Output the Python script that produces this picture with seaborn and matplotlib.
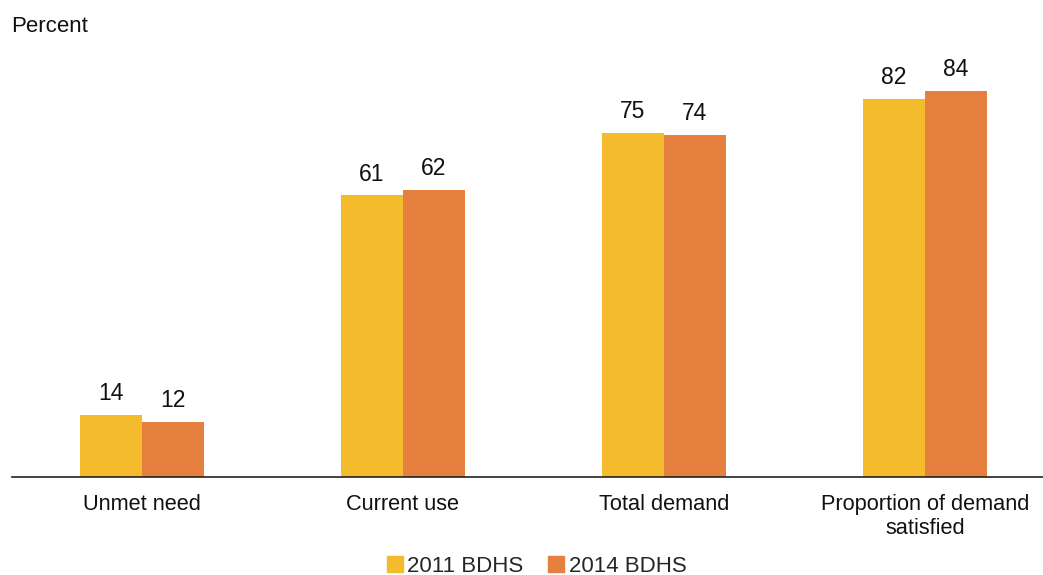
import matplotlib
matplotlib.use("Agg")
import matplotlib.pyplot as plt
import seaborn as sns
import pandas as pd
from matplotlib.lines import Line2D

# Data
categories = ["Unmet need", "Current use", "Total demand", "Proportion of demand\nsatisfied"]
series = ["2011 BDHS", "2014 BDHS"]
vals_2011 = [13.5, 61.2, 74.8, 82.2]
vals_2014 = [12.0, 62.5, 74.4, 84.0]
colors = ["#F4BC2C", "#E5803F"]

df = pd.DataFrame({
    "category": categories * 2,
    "survey": [series[0]] * 4 + [series[1]] * 4,
    "value": vals_2011 + vals_2014,
})

sns.set_style("white")
plt.rcParams["font.family"] = ["Liberation Sans", "DejaVu Sans"]

W, H = 1043, 575
fig = plt.figure(figsize=(W / 100, H / 100), dpi=100)
ax = fig.add_axes([11.5 / W, 98 / H, 1044 / W, 437 / H])

sns.barplot(data=df, x="category", y="value", hue="survey", order=categories,
            hue_order=series, palette=colors, saturation=1, width=0.475,
            ax=ax, legend=False, edgecolor="none")

for c in ax.containers:
    ax.bar_label(c, fmt="%.0f", padding=7, fontsize=16.5, color="#111111")

ax.set_xlim(-0.5, 3.5)
ax.set_ylim(0, 95)
ax.set_xlabel("")
ax.set_ylabel("")
ax.set_yticks([])
sns.despine(ax=ax, left=True)
ax.spines["bottom"].set_color("#222222")
ax.spines["bottom"].set_linewidth(1.2)
ax.tick_params(axis="x", length=0, pad=12, labelsize=15.7, colors="#111111")

fig.text(11 / W, 1 - 26 / H, "Percent", fontsize=16, va="center", ha="left", color="#111111")

handles = [Line2D([0], [0], marker="s", linestyle="none", markersize=11,
                  markerfacecolor=col, markeredgecolor=col) for col in colors]
fig.legend(handles, series, loc="center", bbox_to_anchor=(535 / W, 1 - 566 / H),
           ncol=2, frameon=False, fontsize=16, handletextpad=0.05,
           columnspacing=1.0, handlelength=1.0)

fig.savefig("out.png", dpi=100)
